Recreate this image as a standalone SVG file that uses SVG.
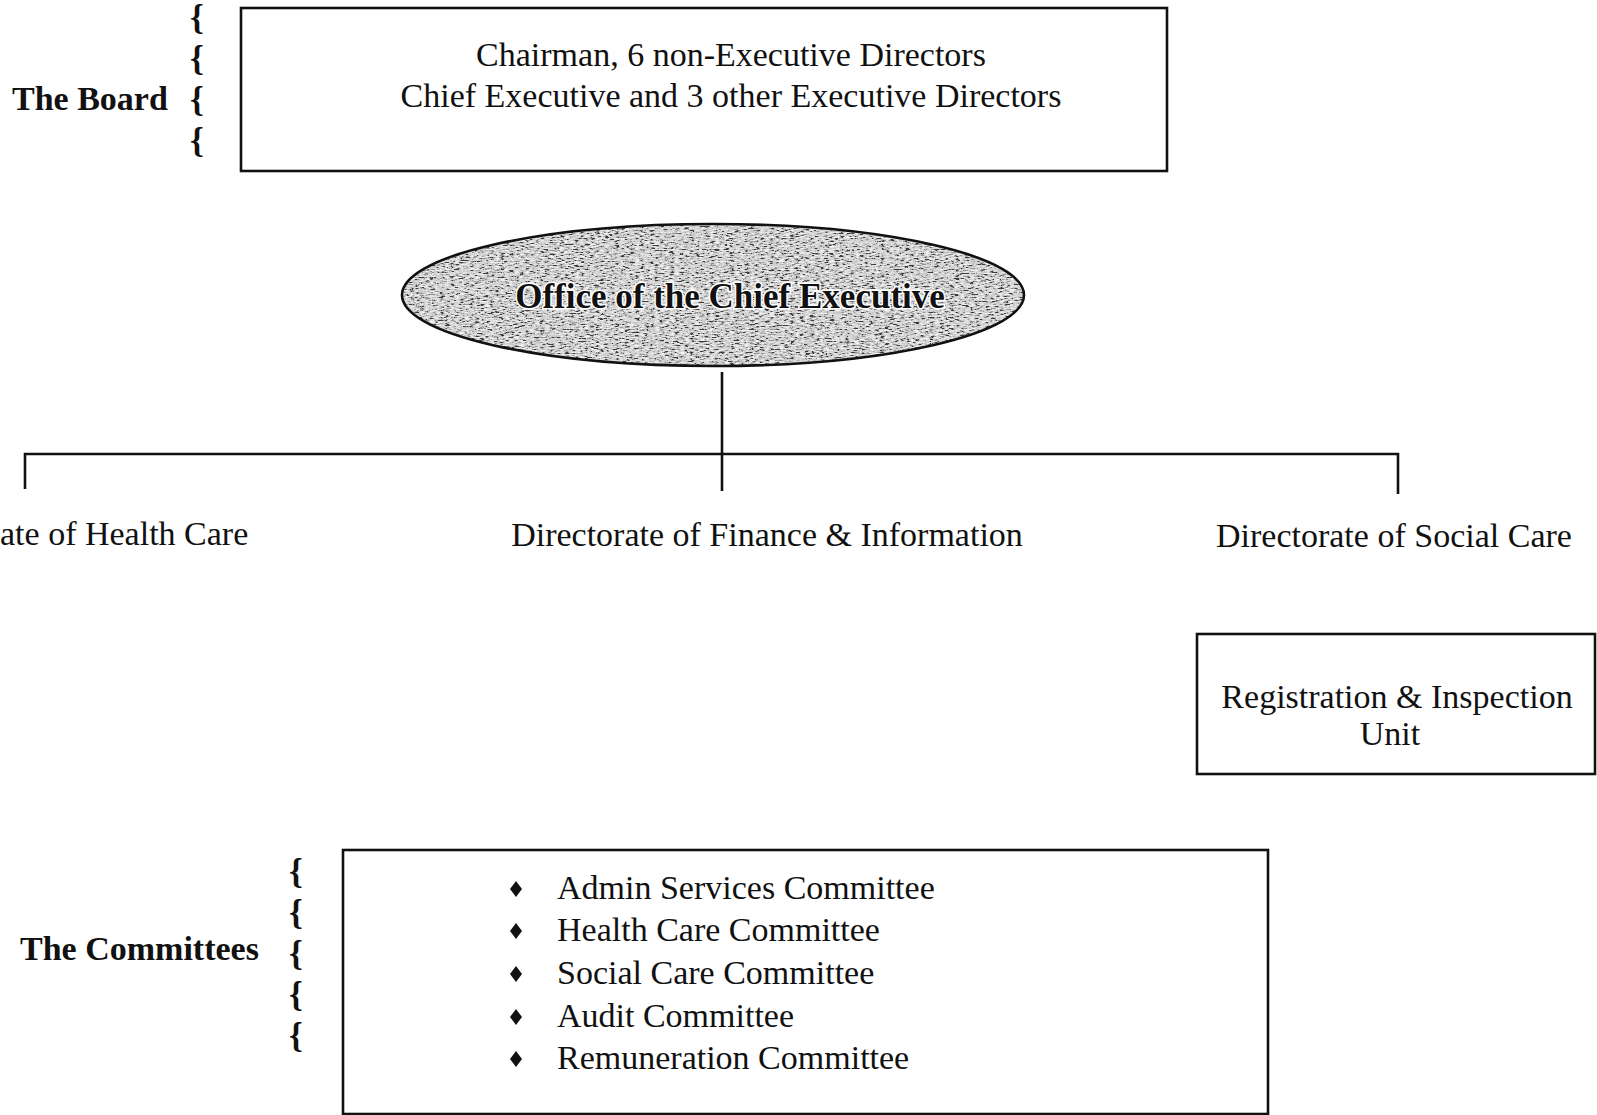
<svg xmlns="http://www.w3.org/2000/svg" width="1597" height="1115" viewBox="0 0 1597 1115">
<style>
text{font-family:"Liberation Serif","Times New Roman",serif;font-size:34px;fill:#111}
.b{font-weight:bold}
.br{font-weight:bold;font-size:35px}
.box{fill:#fff;stroke:#111;stroke-width:2.6}
.ln{fill:none;stroke:#111;stroke-width:2.6}
.c{text-anchor:middle}
</style>
<defs>
<filter id="grain" x="0" y="0" width="100%" height="100%">
<feTurbulence type="fractalNoise" baseFrequency="0.2 0.75" numOctaves="3" seed="7" result="n"/>
<feColorMatrix in="n" type="matrix" values="0.33 0.33 0.33 0 0  0.33 0.33 0.33 0 0  0.33 0.33 0.33 0 0  0 0 0 0 1" result="g"/>
<feComponentTransfer in="g" result="s">
<feFuncR type="linear" slope="3.2" intercept="-1.1"/>
<feFuncG type="linear" slope="3.2" intercept="-1.1"/>
<feFuncB type="linear" slope="3.2" intercept="-1.1"/>
</feComponentTransfer>
<feComponentTransfer in="s">
<feFuncR type="discrete" tableValues="0.05 0.3 0.58 0.7 0.8 0.9"/>
<feFuncG type="discrete" tableValues="0.05 0.3 0.58 0.7 0.8 0.9"/>
<feFuncB type="discrete" tableValues="0.05 0.3 0.58 0.7 0.8 0.9"/>
</feComponentTransfer>
</filter>
<clipPath id="ellClip"><ellipse cx="713" cy="295" rx="311" ry="71"/></clipPath>
<path id="dia" d="M0,-8 L6,0 L0,8 L-6,0 Z"/>
</defs>

<g id="board-label">
<text class="b" x="12" y="110">The Board</text>
<text class="br" x="190" y="29">{</text>
<text class="br" x="190" y="70">{</text>
<text class="br" x="190" y="111">{</text>
<text class="br" x="190" y="152">{</text>
</g>

<g id="board">
<rect class="box" x="241" y="8" width="926" height="163"/>
<text class="c" x="731" y="66">Chairman, 6 non-Executive Directors</text>
<text class="c" x="731" y="107">Chief Executive and 3 other Executive Directors</text>
</g>

<g id="office">
<g clip-path="url(#ellClip)"><rect x="400" y="222" width="630" height="146" fill="#999" filter="url(#grain)"/></g>
<ellipse cx="713" cy="295" rx="311" ry="71" fill="none" stroke="#111" stroke-width="2.6"/>
<text class="b c" x="730" y="308" style="font-size:35px" stroke="#fff" stroke-width="3" paint-order="stroke">Office of the Chief Executive</text>
</g>

<g id="connectors">
<path class="ln" d="M722,372 V491"/>
<path class="ln" d="M25,489 V454 H1398 V494"/>
</g>

<g id="health">
<text x="0" y="545">ate of Health Care</text>
</g>
<g id="finance">
<text class="c" x="767" y="546">Directorate of Finance &amp; Information</text>
</g>
<g id="social">
<text x="1216" y="547">Directorate of Social Care</text>
</g>

<g id="registration">
<rect class="box" x="1197" y="634" width="398" height="140"/>
<text class="c" x="1397" y="708">Registration &amp; Inspection</text>
<text class="c" x="1390" y="745">Unit</text>
</g>

<g id="committees-label">
<text class="b" x="20" y="960">The Committees</text>
<text class="br" x="289" y="883">{</text>
<text class="br" x="289" y="924">{</text>
<text class="br" x="289" y="965">{</text>
<text class="br" x="289" y="1006">{</text>
<text class="br" x="289" y="1047">{</text>
</g>

<g id="committees">
<rect class="box" x="343" y="850" width="925" height="264"/>
<use href="#dia" x="516" y="889" fill="#111"/>
<use href="#dia" x="516" y="931" fill="#111"/>
<use href="#dia" x="516" y="974" fill="#111"/>
<use href="#dia" x="516" y="1017" fill="#111"/>
<use href="#dia" x="516" y="1059" fill="#111"/>
<text x="557" y="899">Admin Services Committee</text>
<text x="557" y="941">Health Care Committee</text>
<text x="557" y="984">Social Care Committee</text>
<text x="557" y="1027">Audit Committee</text>
<text x="557" y="1069">Remuneration Committee</text>
</g>
</svg>
